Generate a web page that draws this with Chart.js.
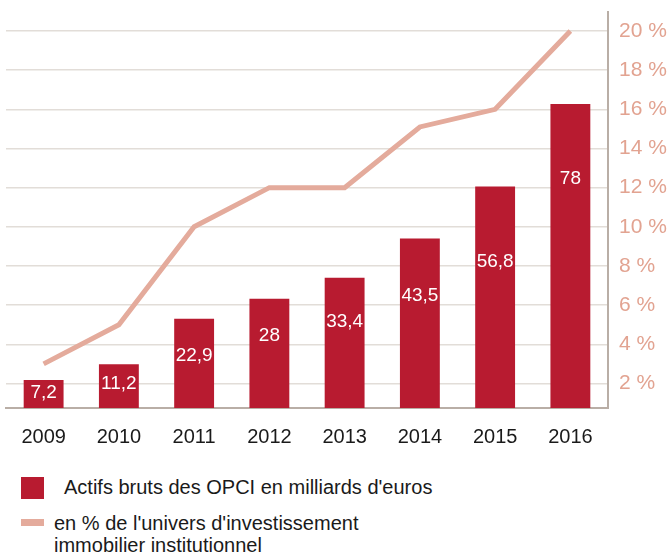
<!DOCTYPE html>
<html>
<head>
<meta charset="utf-8">
<script src="https://cdn.jsdelivr.net/npm/chart.js@4/dist/chart.umd.min.js"></script>
<style>
  html, body { margin: 0; padding: 0; background: #fff; }
  body { width: 671px; height: 555px; position: relative; overflow: hidden; font-family: "Liberation Sans", Arial, sans-serif; color: #1a1a1a; }
  #wrap { position: absolute; left: 0; top: 0; width: 671px; height: 460px; }
  .swatch { position: absolute; left: 21px; width: 23px; }
  .leg { position: absolute; font-size: 20px; line-height: 22px; white-space: nowrap; }
</style>
</head>
<body>
<div id="wrap"><canvas id="chart"></canvas></div>

<div class="swatch" style="top: 477px; height: 22px; background: #b81b30;"></div>
<div class="leg" id="leg1" style="left: 64px; top: 476px;"></div>
<div class="swatch" style="top: 519px; height: 7px; background: #e4ab9c;"></div>
<div class="leg" id="leg2" style="left: 54px; top: 512px;"></div>

<script>
// data
const years = ['2009', '2010', '2011', '2012', '2013', '2014', '2015', '2016'];
const actifs = [7.2, 11.2, 22.9, 28, 33.4, 43.5, 56.8, 78];
const partUnivers = [3, 5, 10, 12, 12, 15.1, 16, 20];
const pctTicks = [2, 4, 6, 8, 10, 12, 14, 16, 18, 20];
const legendBars = 'Actifs bruts des OPCI en milliards d\'euros';
const legendLine = ['en % de l\'univers d\'investissement', 'immobilier institutionnel'];

const barColor = '#b81b30';
const lineColor = '#e4ab9c';
const font = '"Liberation Sans", Arial, sans-serif';

document.getElementById('leg1').textContent = legendBars;
document.getElementById('leg2').innerHTML = legendLine.join('<br>');

// white value labels inside the bars
const barLabels = {
  id: 'barLabels',
  afterDatasetsDraw(chart)
  {
    const ctx = chart.ctx;
    const meta = chart.getDatasetMeta(1);
    ctx.save();
    ctx.fillStyle = '#fff';
    ctx.font = '19px ' + font;
    ctx.textAlign = 'center';
    ctx.textBaseline = 'middle';
    meta.data.forEach((bar, i) =>
    {
      const h = bar.base - bar.y;
      const off = Math.min(h * 0.45, Math.max(h * 0.34, 37), 75);
      ctx.fillText(String(actifs[i]).replace('.', ','), bar.x, bar.y + off);
    });
    ctx.restore();
  }
};

new Chart(document.getElementById('chart'),
{
  data:
  {
    labels: years,
    datasets:
    [
      {
        type: 'line',
        data: partUnivers,
        yAxisID: 'pct',
        borderColor: lineColor,
        borderWidth: 5,
        pointRadius: 0,
        tension: 0,
        order: 0
      },
      {
        type: 'bar',
        data: actifs,
        yAxisID: 'val',
        backgroundColor: barColor,
        barPercentage: 0.53,
        categoryPercentage: 1,
        order: 1
      }
    ]
  },
  options:
  {
    responsive: true,
    maintainAspectRatio: false,
    animation: false,
    layout: { padding: { top: 12, left: 6, right: 0, bottom: 0 } },
    plugins: { legend: { display: false }, tooltip: { enabled: false } },
    scales:
    {
      x:
      {
        grid: { display: false },
        border: { color: '#b9aea6', width: 2 },
        ticks: { color: '#1a1a1a', font: { family: font, size: 20 }, padding: 9 },
        afterFit: (s) => { s.height = 52; }
      },
      val:
      {
        display: false,
        min: 0,
        max: 101.6
      },
      pct:
      {
        position: 'right',
        min: 0.745,
        max: 20.97,
        afterBuildTicks: (s) => { s.ticks = pctTicks.map((v) => ({ value: v })); },
        grid: { color: '#e2ddd8', lineWidth: 1.5, drawTicks: false },
        border: { color: '#b9aea6', width: 2 },
        ticks: { color: '#e2a391', font: { family: font, size: 21 }, padding: 11, callback: (v) => v + ' %' },
        afterFit: (s) =>
        {
          s.width = 63;
          s.paddingTop = 0;
          s.paddingBottom = 0;
        }
      }
    }
  },
  plugins: [barLabels]
});
</script>
</body>
</html>
